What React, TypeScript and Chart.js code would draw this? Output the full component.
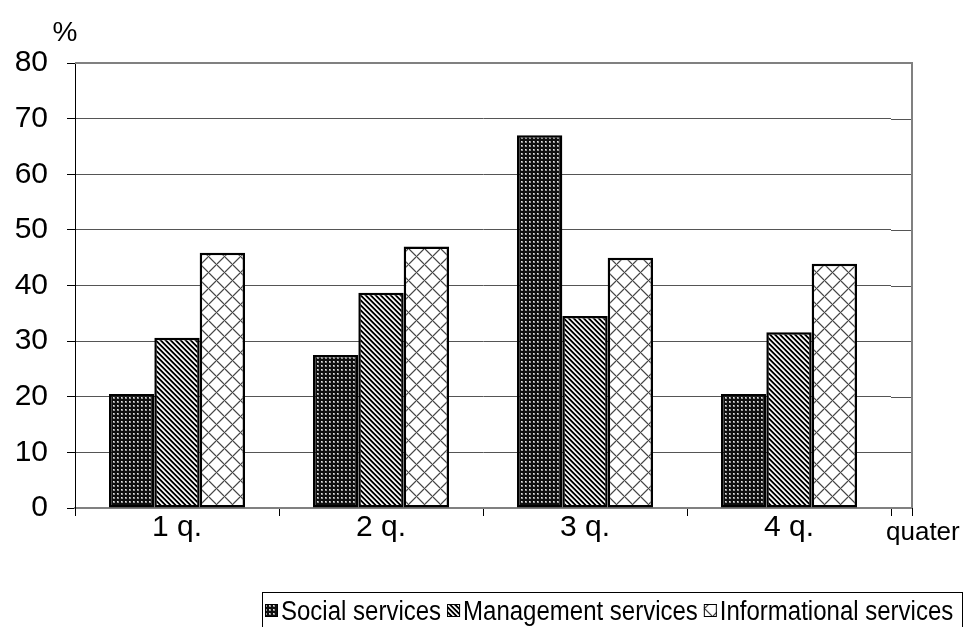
import React, { useEffect, useRef } from 'react';
import { Chart, registerables } from 'chart.js';

Chart.register(...registerables);

const categories = ['1 q.', '2 q.', '3 q.', '4 q.'];
const socialServices = [20.5, 27.5, 67, 20.5];
const managementServices = [30.6, 38.7, 34.5, 31.6];
const informationalServices = [45.9, 47, 45, 43.9];
const seriesNames = ['Social services', 'Management services', 'Informational services'];
const yMin = 0;
const yMax = 80;
const yStep = 10;
const yUnit = '%';
const xUnit = 'quater';

const FONT = 'Arial, "Liberation Sans", sans-serif';
const PLOT_EDGE = 912;

function makePattern(kind: 'dots' | 'stripes' | 'diamonds'): CanvasPattern {
  const n = kind === 'dots' ? 4 : kind === 'stripes' ? 5 : 16;
  const c = document.createElement('canvas');
  c.width = n;
  c.height = n;
  const ctx = c.getContext('2d')!;
  const img = ctx.createImageData(n, n);
  for (let y = 0; y < n; y++) {
    for (let x = 0; x < n; x++) {
      let v = 255;
      if (kind === 'dots') {
        v = (x === 1 || x === 2) && (y === 1 || y === 2) ? (x === 1 && y === 1 ? 230 : 150) : 15;
      } else if (kind === 'stripes') {
        const d = (((x - y) % n) + n) % n;
        v = d === 0 || d === 1 ? 0 : d === 2 ? 200 : 255;
        if (d === 4) v = 140;
      } else {
        const a = (((x - y) % n) + n) % n;
        const b = (((x + y) % n) + n) % n;
        const d1 = Math.min(a, n - a);
        const d2 = Math.min(b, n - b);
        const d = Math.min(d1, d2);
        v = d === 0 ? 70 : d === 1 ? 185 : 255;
      }
      const i = (y * n + x) * 4;
      img.data[i] = v;
      img.data[i + 1] = v;
      img.data[i + 2] = v;
      img.data[i + 3] = 255;
    }
  }
  ctx.putImageData(img, 0, 0);
  const main = document.createElement('canvas').getContext('2d')!;
  return main.createPattern(c, 'repeat')!;
}

export default function App() {
  const ref = useRef<HTMLCanvasElement | null>(null);

  useEffect(() => {
    document.body.style.margin = '0';
    const canvas = ref.current!;
    const patterns = [makePattern('dots'), makePattern('stripes'), makePattern('diamonds')];

    const decorations = {
      id: 'decorations',
      afterDraw(chart: any) {
        const ctx = chart.ctx as CanvasRenderingContext2D;
        const area = chart.chartArea;
        const yScale = chart.scales.y;
        ctx.save();
        // extend horizontal gridlines to the plot edge
        ctx.strokeStyle = '#555';
        ctx.lineWidth = 1;
        for (let v = yMin + yStep; v < yMax; v += yStep) {
          const py = Math.round(yScale.getPixelForValue(v)) + 0.5;
          ctx.beginPath();
          ctx.moveTo(area.right, py);
          ctx.lineTo(PLOT_EDGE, py);
          ctx.stroke();
        }
        ctx.strokeStyle = '#808080';
        ctx.lineWidth = 2;
        const yb = yScale.getPixelForValue(yMin);
        ctx.beginPath();
        ctx.moveTo(area.right, yb);
        ctx.lineTo(PLOT_EDGE, yb);
        ctx.stroke();
        // top + right border of plot area
        const yt = yScale.getPixelForValue(yMax);
        ctx.beginPath();
        ctx.moveTo(area.left, yt);
        ctx.lineTo(PLOT_EDGE, yt);
        ctx.lineTo(PLOT_EDGE, yb);
        ctx.stroke();
        ctx.strokeStyle = '#000';
        ctx.lineWidth = 1;
        ctx.beginPath();
        ctx.moveTo(PLOT_EDGE + 0.5, yb);
        ctx.lineTo(PLOT_EDGE + 0.5, yb + 8);
        ctx.stroke();

        ctx.fillStyle = '#000';
        ctx.font = `28px ${FONT}`;
        ctx.textBaseline = 'alphabetic';
        ctx.textAlign = 'center';
        ctx.fillText(yUnit, 65, 41);
        ctx.font = `26px ${FONT}`;
        ctx.textAlign = 'left';
        ctx.fillText(xUnit, 886, 540);

        // legend
        const top = 592;
        const left = 262;
        const right = 962;
        ctx.strokeStyle = '#000';
        ctx.lineWidth = 1;
        ctx.strokeRect(left + 0.5, top + 0.5, right - left, 60);
        let x = left + 3;
        const cy = 611;
        chart.data.datasets.forEach((ds: any, i: number) => {
          ctx.fillStyle = ds.backgroundColor;
          ctx.fillRect(x, cy - 7, 13, 13);
          ctx.strokeStyle = '#000';
          ctx.lineWidth = 1;
          ctx.strokeRect(x + 0.5, cy - 6.5, 12, 12);
          x += 16;
          ctx.save();
          ctx.translate(x, cy + 1);
          ctx.scale(1, 1.15);
          ctx.fillStyle = '#000';
          ctx.font = `24px ${FONT}`;
          ctx.textAlign = 'left';
          ctx.textBaseline = 'middle';
          ctx.fillText(seriesNames[i], 0, 0);
          const w = ctx.measureText(seriesNames[i]).width;
          ctx.restore();
          x += w + 6;
        });
        ctx.restore();
      },
    };

    const chart = new Chart(canvas, {
      type: 'bar',
      data: {
        labels: categories,
        datasets: [
          { label: seriesNames[0], data: socialServices, backgroundColor: patterns[0] as any },
          { label: seriesNames[1], data: managementServices, backgroundColor: patterns[1] as any },
          { label: seriesNames[2], data: informationalServices, backgroundColor: patterns[2] as any },
        ].map((d) => ({
          ...d,
          borderColor: '#000',
          borderWidth: 2.5,
          borderSkipped: false,
          categoryPercentage: 0.667,
          barPercentage: 1,
        })),
      },
      options: {
        responsive: false,
        animation: false,
        devicePixelRatio: 1,
        layout: { padding: { top: 63, right: 75, bottom: 0, left: 0 } },
        plugins: {
          legend: { display: false },
          tooltip: { enabled: false },
        },
        scales: {
          x: {
            grid: {
              offset: true,
              drawOnChartArea: false,
              tickLength: 8,
              tickColor: '#000',
              color: '#000',
            },
            border: { color: '#808080', width: 2 },
            ticks: {
              color: '#000',
              font: { family: FONT, size: 30 },
              padding: -6,
            },
            afterFit: (s: any) => {
              s.height = 119;
            },
          },
          y: {
            min: yMin,
            max: yMax,
            ticks: {
              stepSize: yStep,
              color: '#000',
              font: { family: FONT, size: 30 },
              padding: 19,
            },
            grid: {
              color: '#555',
              lineWidth: 1,
              tickLength: 8,
              tickColor: '#000',
            },
            border: { color: '#000', width: 1 },
            afterFit: (s: any) => {
              s.width = 75;
            },
          },
        },
      },
      plugins: [decorations],
    });
    return () => chart.destroy();
  }, []);

  return <canvas ref={ref} width={966} height={627} style={{ display: 'block' }} />;
}
